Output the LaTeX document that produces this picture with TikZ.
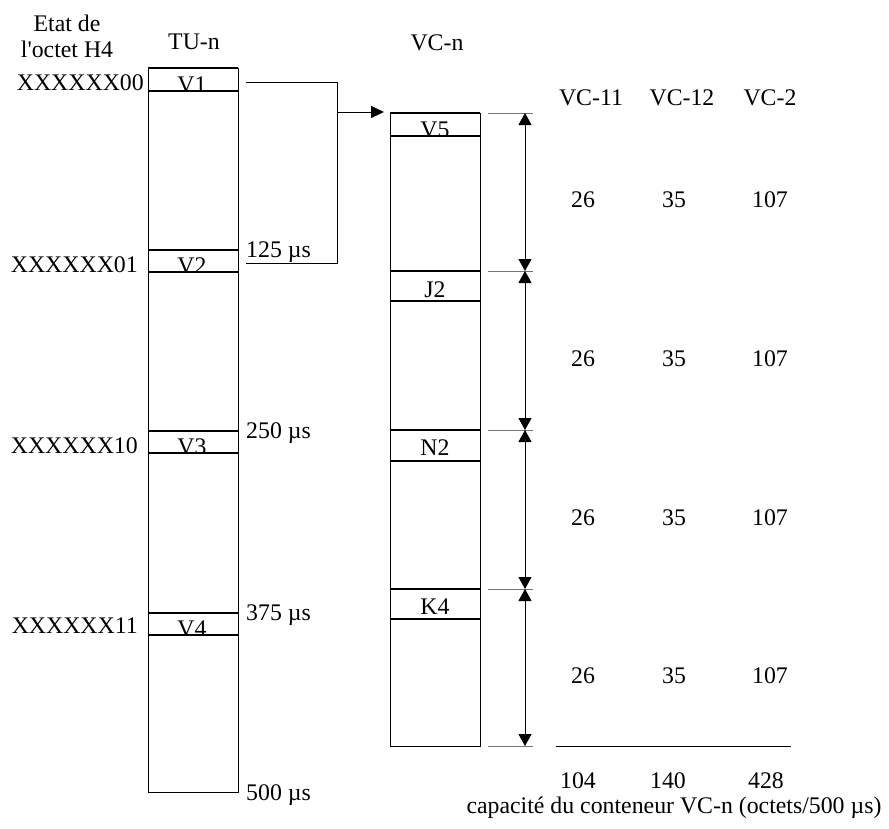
\documentclass[tikz,border=0pt]{standalone}
\usepackage{fontspec}
\setmainfont{Liberation Serif}
\usetikzlibrary{arrows.meta}
\begin{document}
\begin{tikzpicture}[x=1pt,y=-1pt,
  every node/.style={inner sep=0pt, font=\fontsize{23.8}{28}\selectfont},
  frame/.style={draw, line width=1pt},
  band/.style={line width=1.8pt},
  ext/.style={draw=black!55, line width=0.8pt},
  dim/.style={line width=1pt, {Triangle[length=12pt,width=13pt]}-{Triangle[length=12pt,width=13pt]}},
  lbl/.style={anchor=base}]
\useasboundingbox (0,0) rectangle (889,828);

% headers
\node[lbl] (etat1) at (67,31) {Etat de};
\node[lbl] (etat2) at (67,57) {l\textquotesingle octet H4};
\node[lbl] (tun) at (194,49) {TU-n};
\node[lbl] (vcn) at (437,50) {VC-n};

% TU-n frame
\node[frame, minimum width=90pt, minimum height=724pt, anchor=north west] (tu) at (148,68) {};
\foreach \t/\b in {68/91, 250/272, 431/453, 613/635}{
  \draw[band] (148,\t) -- (238,\t);
  \draw[band] (148,\b) -- (238,\b);
}
\draw[frame] (148,68) rectangle (238,792);
% clipped V labels
\foreach \t/\b/\n in {68/91/V1, 250/272/V2, 431/453/V3, 613/635/V4}{
  \begin{scope}
    \clip (148,\t) rectangle (238,\b);
    \node[lbl] (\n) at (192,\b+1) {\n};
  \end{scope}
}

% state labels
\node[anchor=base east] (s00) at (144,90) {XXXXXX00};
\node[anchor=base east] (s01) at (138,272) {XXXXXX01};
\node[anchor=base east] (s10) at (138,453) {XXXXXX10};
\node[anchor=base east] (s11) at (138,633) {XXXXXX11};

% time labels
\node[anchor=base west] (t125) at (246,257) {125 µs};
\node[anchor=base west] (t250) at (246,438) {250 µs};
\node[anchor=base west] (t375) at (246,620) {375 µs};
\node[anchor=base west] (t500) at (246,800) {500 µs};

% bracket connector and arrow
\coordinate (bA) at (246,82);
\coordinate (bB) at (337,82);
\coordinate (bC) at (337,263);
\coordinate (bD) at (246,263);
\coordinate (aS) at (337,112);
\coordinate (aE) at (384,112);
\draw[line width=1pt] (bA) -- (bB) -- (bC) -- (bD);
\draw[line width=1pt, -{Triangle[length=13pt,width=12pt]}] (aS) -- (aE);

% VC-n frame
\foreach \t/\b in {113/136, 271/301, 430/461, 589/619}{
  \draw[band] (390,\t) -- (480,\t);
  \draw[band] (390,\b) -- (480,\b);
}
\draw[frame] (390,113) rectangle (480,746);
\begin{scope}
  \clip (390,113) rectangle (480,136);
  \node[lbl] (V5) at (435,137) {V5};
\end{scope}
\node[lbl] (J2) at (435,297) {J2};
\node[lbl] (N2) at (435,455) {N2};
\node[lbl] (K4) at (435,614) {K4};

% extension lines and dimension arrows
\foreach \y/\n in {113/e0, 271/e1, 430/e2, 589/e3, 746/e4}{
  \draw[ext] (488,\y) -- (533,\y);
  \coordinate (\n) at (525,\y);
}
\draw[dim] (e0) -- (e1);
\draw[dim] (e1) -- (e2);
\draw[dim] (e2) -- (e3);
\draw[dim] (e3) -- (e4);

% table
\node[lbl] (h11) at (591,105) {VC-11};
\node[lbl] (h12) at (682,105) {VC-12};
\node[lbl] (h2) at (770,105) {VC-2};
\foreach \y [count=\i] in {207,366,525,683}{
  \node[lbl] (a\i) at (583,\y) {26};
  \node[lbl] (b\i) at (674,\y) {35};
  \node[lbl] (c\i) at (770,\y) {107};
}
\coordinate (sL) at (556,746);
\coordinate (sR) at (791,746);
\draw[line width=1pt] (sL) -- (sR);
\node[lbl] (tot1) at (578,788) {104};
\node[lbl] (tot2) at (668,788) {140};
\node[lbl] (tot3) at (766,788) {428};
\node[lbl] (cap) at (674,813) {capacité du conteneur VC-n (octets/500 µs)};
\end{tikzpicture}
\end{document}
